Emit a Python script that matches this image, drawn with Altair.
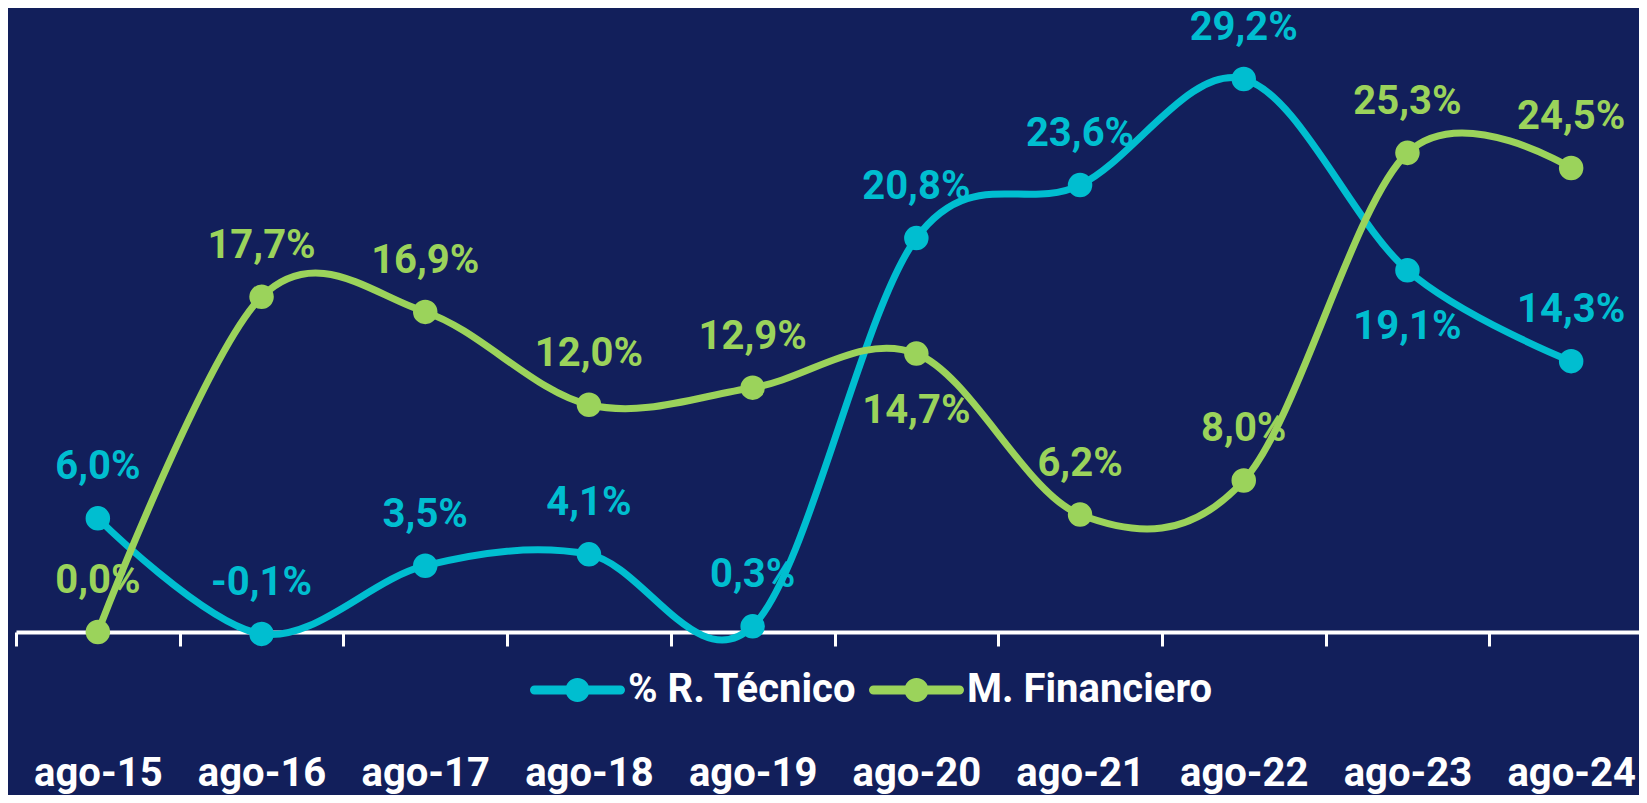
import altair as alt
import pandas as pd

fechas = ["ago-15", "ago-16", "ago-17", "ago-18", "ago-19",
          "ago-20", "ago-21", "ago-22", "ago-23", "ago-24"]
tecnico = [6.0, -0.1, 3.5, 4.1, 0.3, 20.8, 23.6, 29.2, 19.1, 14.3]
financiero = [0.0, 17.7, 16.9, 12.0, 12.9, 14.7, 6.2, 8.0, 25.3, 24.5]
series = ["% R. Técnico", "M. Financiero"]
colores = ["#00BED0", "#9BD35B"]

rows = []
for name, vals in zip(series, [tecnico, financiero]):
    for f, v in zip(fechas, vals):
        rows.append({"fecha": f, "serie": name, "valor": v,
                     "etiqueta": f"{v:.1f}".replace(".", ",") + "%"})
df = pd.DataFrame(rows)

FONT = "Roboto"
BG = "#121F5B"

x = alt.X("fecha:N", sort=fechas,
          scale=alt.Scale(type="band", domain=fechas, range=[0, 1637],
                          paddingInner=0, paddingOuter=0),
          axis=alt.Axis(title=None, labelAngle=0, domainColor="white", domainWidth=4,
                        tickColor="white", tickWidth=3, tickSize=14, tickBand="extent",
                        labelFont=FONT, labelFontSize=40, labelFontWeight="bold",
                        labelColor="white", labelPadding=107, grid=False,
                        labelOverlap=False))
y = alt.Y("valor:Q", scale=alt.Scale(domain=[0, 32.95], nice=False, zero=False), axis=None)
color_nl = alt.Color("serie:N", scale=alt.Scale(domain=series, range=colores), legend=None)

# legend symbol: line with round ends and a circle in the middle (units of 20px)
sym = ("M-0.775,-0.225 L3.525,-0.225 A0.225,0.225 0 0,1 3.525,0.225 "
       "L-0.775,0.225 A0.225,0.225 0 0,1 -0.775,-0.225 Z "
       "M0.775,0 A0.6,0.6 0 1,1 1.975,0 A0.6,0.6 0 1,1 0.775,0 Z")

color_leg = alt.Color("serie:N", scale=alt.Scale(domain=series, range=colores),
                      legend=alt.Legend(orient="none", legendX=514, legendY=662,
                                        direction="horizontal", title=None,
                                        symbolType=sym, symbolSize=1600,
                                        symbolStrokeWidth=0, symbolOpacity=1,
                                        labelFont=FONT, labelFontSize=40,
                                        labelFontWeight="bold", labelColor="white",
                                        labelOffset=58, columnPadding=12, labelLimit=0))

base = alt.Chart(df)

lines = base.mark_line(interpolate="cardinal", strokeWidth=7).encode(
    x=x, y=y, color=color_nl, order=alt.Order("fecha:N"))
points = base.mark_circle(size=600, opacity=1).encode(x=x, y=y, color=color_leg)

below_expr = ("(datum.serie == '% R. Técnico' && datum.fecha == 'ago-23') || "
              "(datum.serie == 'M. Financiero' && datum.fecha == 'ago-20')")

labels_above = base.mark_text(font=FONT, fontSize=40, fontWeight="bold",
                              align="center", baseline="middle", dy=-51).encode(
    x=x, y=y, text="etiqueta:N", color=color_nl
).transform_filter("!(" + below_expr + ")")

labels_below = base.mark_text(font=FONT, fontSize=40, fontWeight="bold",
                              align="center", baseline="middle", dy=57).encode(
    x=x, y=y, text="etiqueta:N", color=color_nl
).transform_filter(below_expr)

chart = alt.layer(lines, points, labels_above, labels_below).resolve_legend(
    color="independent"
).properties(
    width=1623, height=624,
    autosize=alt.AutoSizeParams(type="none"),
    padding={"left": 8, "top": 0, "right": 0, "bottom": 163},
    background=BG,
).configure_view(stroke=None)

chart.save("out.html", embed_options={"renderer": "svg", "actions": False})
